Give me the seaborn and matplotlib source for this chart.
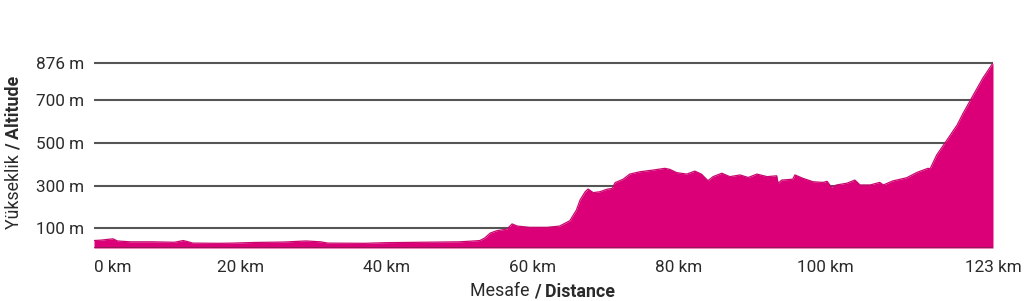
import matplotlib
matplotlib.use("Agg")
import matplotlib.pyplot as plt
import seaborn as sns
import pandas as pd

# distance (km) and altitude (m) read from the profile
km = [0, 1, 2, 2.6, 3.2, 5, 8, 11, 12.2, 12.8, 13.5, 17, 19, 22, 26, 29, 31, 32, 37,
      40, 45, 50, 52, 52.8, 53.5, 54.2, 55.1, 56.5, 57.2, 57.9, 59.6, 62, 63.7, 65.1,
      66, 66.5, 67.2, 67.6, 68.3, 69.2, 70.2, 70.9, 71.3, 72.4, 73.3, 74.7, 76.5,
      78.1, 78.8, 79.7, 81.1, 82.2, 83.1, 84, 84.7, 85.9, 87, 88.4, 89.5, 90.7, 92.1,
      93.4, 93.6, 94.1, 95.6, 95.9, 97, 98.4, 99.7, 100.3, 100.9, 101.6, 103, 104.1,
      104.8, 106.2, 107.5, 108, 109.3, 111.2, 112.6, 114.1, 114.4, 115.3, 116.7,
      118.1, 118.9, 120.3, 121.6, 123]
alt = [42, 44, 48, 50, 40, 36, 36, 34, 42, 37, 30, 29, 30, 33, 35, 40, 36, 30, 29,
       32, 34, 36, 40, 42, 55, 77, 88, 96, 120, 110, 104, 104, 110, 135,
       185, 232, 271, 284, 267, 271, 283, 287, 314, 330, 354, 365, 373,
       381, 376, 361, 354, 368, 354, 323, 342, 358, 342, 350, 338, 354, 342,
       346, 311, 326, 330, 350, 334, 318, 315, 320, 292, 303, 311, 326,
       303, 303, 315, 303, 322, 337, 362, 381, 379, 444, 514,
       585, 639, 725, 804, 876]

y_ticks = [100, 300, 500, 700, 876]
y_labels = ["100 m", "300 m", "500 m", "700 m", "876 m"]
x_ticks = [0, 20, 40, 60, 80, 100, 123]
x_labels = ["0 km", "20 km", "40 km", "60 km", "80 km", "100 km", "123 km"]

FILL = "#dc0078"
EDGE = "#c8086e"
BASE = "#8c1a55"
TXT = "#2a2a2a"

sns.set_theme(style="white")
plt.rcParams["font.family"] = ["Roboto", "DejaVu Sans"]

df = pd.DataFrame({"km": km, "alt": alt})

fig = plt.figure(figsize=(10.24, 3.01), dpi=100)
ymin, ymax = 7, 900
ax = fig.add_axes([94 / 1024, (301 - 248) / 301, 899 / 1024, (248 - 57.8) / 301])

ax.set_ylim(ymin, ymax)
ax.set_xlim(0, 123)

for v in y_ticks:
    ax.axhline(v, color="#555555", lw=1.5, zorder=1)

ax.fill_between(df["km"], ymin, df["alt"], color=FILL, lw=0, zorder=2)
sns.lineplot(data=df, x="km", y="alt", ax=ax, color=EDGE, lw=0.9, zorder=3)
ax.axhline(ymin + 2, color=BASE, lw=2.0, zorder=4)

for s in ax.spines.values():
    s.set_visible(False)

ax.set_yticks(y_ticks)
ax.set_yticklabels(y_labels)
ax.set_xticks(x_ticks)
ax.set_xticklabels(x_labels)
ax.tick_params(axis="both", length=0, labelsize=12.3, labelcolor=TXT)
ax.tick_params(axis="y", pad=7)
ax.tick_params(axis="x", pad=9)
ax.get_xticklabels()[0].set_ha("left")
ax.set_xlabel("")
ax.set_ylabel("")
ax.grid(False)

# axis titles with mixed weights
t1 = fig.text(14 / 1024, (301 - 229) / 301, "Yükseklik ", rotation=90,
              ha="center", va="bottom", fontsize=12.8, color=TXT)
ax.annotate("/ Altitude", xy=(0.5, 1), xycoords=t1, rotation=90,
            ha="center", va="bottom", fontsize=12.8,
            fontweight="bold", color=TXT, annotation_clip=False)
t2 = fig.text(470 / 1024, (301 - 291) / 301, "Mesafe ", ha="left", va="center",
              fontsize=12.8, color=TXT)
ax.annotate("/ Distance", xy=(1, 0), xycoords=t2, ha="left", va="bottom",
            fontsize=12.8, fontweight="bold", color=TXT, annotation_clip=False)

fig.savefig("out.png", dpi=100)
